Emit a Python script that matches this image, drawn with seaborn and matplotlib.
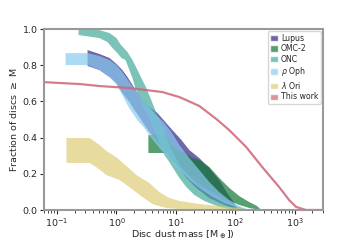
import matplotlib
matplotlib.use("Agg")
import matplotlib.pyplot as plt
from matplotlib.patches import Patch
import seaborn as sns
import numpy as np

# Band edges: (mass [M_earth], fraction >= M)
lupus_up_m = [0.326, 0.518, 0.763, 1.0, 1.26, 1.53, 1.86, 2.25, 2.73, 3.59, 4.89, 6.41, 8.73, 12.4, 16.9, 24.8, 36.6, 53.8, 73.0, 96.2, 108]
lupus_up_f = [0.884, 0.862, 0.840, 0.807, 0.773, 0.735, 0.691, 0.646, 0.608, 0.569, 0.536, 0.492, 0.442, 0.387, 0.331, 0.287, 0.232, 0.166, 0.094, 0.039, 0.006]
lupus_lo_m = [0.326, 0.518, 0.763, 1.0, 1.26, 1.65, 2.01, 2.44, 2.95, 3.59, 4.89, 6.92, 10.2, 15.0, 22.1, 36.6, 65.3, 108]
lupus_lo_f = [0.796, 0.773, 0.735, 0.702, 0.646, 0.597, 0.552, 0.514, 0.470, 0.431, 0.376, 0.320, 0.249, 0.177, 0.122, 0.066, 0.028, 0.0]

omc2_up_m = [3.45, 6.92, 7.78, 10.6, 13.9, 18.9, 24.8, 36.6, 53.8, 79.3, 117, 172, 234, 273]
omc2_up_f = [0.414, 0.414, 0.370, 0.331, 0.320, 0.287, 0.276, 0.238, 0.177, 0.122, 0.077, 0.044, 0.022, 0.0]
omc2_lo_m = [3.45, 6.92, 8.40, 11.5, 16.9, 24.8, 36.6, 53.8, 79.3, 117, 172, 273]
omc2_lo_f = [0.315, 0.315, 0.276, 0.238, 0.188, 0.144, 0.110, 0.077, 0.050, 0.028, 0.011, 0.0]

onc_up_m = [0.230, 0.518, 0.763, 1.0, 1.19, 1.53, 1.86, 2.17, 2.63, 3.19, 3.73, 4.35, 4.89, 5.28, 6.41, 7.78, 9.43, 11.5, 14.4, 18.9, 24.8, 36.6, 53.8, 79.3, 117, 159]
onc_up_f = [1.0, 0.994, 0.978, 0.950, 0.912, 0.873, 0.829, 0.785, 0.729, 0.674, 0.619, 0.564, 0.525, 0.497, 0.442, 0.359, 0.304, 0.249, 0.210, 0.166, 0.127, 0.094, 0.061, 0.039, 0.017, 0.0]
onc_lo_m = [0.230, 0.518, 0.706, 0.857, 1.04, 1.21, 1.42, 1.65, 1.86, 2.08, 2.44, 2.84, 3.32, 3.59, 4.35, 5.28, 6.41, 7.78, 9.43, 11.5, 15.0, 20.5, 30.1, 44.4, 65.3, 96.2]
onc_lo_f = [0.967, 0.950, 0.928, 0.895, 0.867, 0.840, 0.829, 0.773, 0.729, 0.674, 0.619, 0.564, 0.525, 0.497, 0.442, 0.370, 0.304, 0.265, 0.221, 0.177, 0.127, 0.083, 0.050, 0.028, 0.011, 0.0]

roph_up_m = [0.139, 0.326, 0.518, 0.763, 1.0, 1.26, 1.65, 2.17, 2.73, 3.59, 4.70, 6.41, 8.40, 11.5, 16.9, 24.8, 36.6, 53.8, 79.3, 117, 172]
roph_up_f = [0.867, 0.867, 0.851, 0.829, 0.801, 0.762, 0.707, 0.652, 0.608, 0.569, 0.525, 0.481, 0.431, 0.359, 0.287, 0.221, 0.155, 0.099, 0.055, 0.022, 0.0]
roph_lo_m = [0.139, 0.326, 0.518, 0.763, 1.0, 1.26, 1.53, 1.86, 2.25, 2.95, 3.87, 5.28, 7.78, 11.5, 16.9, 24.8, 39.5, 65.3, 117, 159]
roph_lo_f = [0.801, 0.801, 0.773, 0.735, 0.691, 0.635, 0.580, 0.536, 0.497, 0.453, 0.398, 0.343, 0.287, 0.221, 0.166, 0.122, 0.077, 0.039, 0.011, 0.0]

lori_up_m = [0.144, 0.352, 0.518, 0.680, 1.04, 1.47, 2.17, 3.59, 5.28, 7.78, 11.5, 24.8, 53.8, 117, 172]
lori_up_f = [0.398, 0.398, 0.359, 0.326, 0.287, 0.243, 0.193, 0.149, 0.099, 0.066, 0.050, 0.033, 0.022, 0.011, 0.0]
lori_lo_m = [0.144, 0.352, 0.479, 0.680, 1.12, 1.65, 2.73, 4.03, 6.92, 11.5, 53.8]
lori_lo_f = [0.260, 0.260, 0.232, 0.193, 0.166, 0.127, 0.072, 0.033, 0.011, 0.006, 0.0]

this_m = [0.05, 0.24, 0.52, 1.65, 5.9, 11.5, 24.8, 48, 79, 153, 284, 549, 809, 1060, 1560, 3000]
this_f = [0.708, 0.696, 0.685, 0.674, 0.652, 0.624, 0.575, 0.503, 0.442, 0.348, 0.238, 0.127, 0.055, 0.017, 0.0, 0.0]

bands = [
    ("Lupus", "#332288", lupus_up_m, lupus_up_f, lupus_lo_m, lupus_lo_f),
    ("OMC-2", "#117733", omc2_up_m, omc2_up_f, omc2_lo_m, omc2_lo_f),
    ("ONC", "#44AA99", onc_up_m, onc_up_f, onc_lo_m, onc_lo_f),
    (r"$\rho$ Oph", "#88CCEE", roph_up_m, roph_up_f, roph_lo_m, roph_lo_f),
    (r"$\lambda$ Ori", "#DDCC77", lori_up_m, lori_up_f, lori_lo_m, lori_lo_f),
]
this_color = "#CC6677"

sns.set_style("ticks", {"axes.edgecolor": "0.6"})
plt.rcParams["font.family"] = ["DejaVu Sans"]

fig, ax = plt.subplots(figsize=(3.6, 2.4), dpi=100)
fig.subplots_adjust(left=0.122, right=0.897, bottom=0.125, top=0.879)

handles = []
for label, color, um, uf, lm, lf in bands:
    xs = np.r_[um, lm[::-1]]
    ys = np.r_[uf, lf[::-1]]
    ax.fill(xs, ys, color=color, alpha=0.7, lw=0)
    handles.append(Patch(facecolor=color, alpha=0.7, label=label))

sns.lineplot(x=this_m, y=this_f, ax=ax, color=this_color, lw=1.6, alpha=0.85, sort=False)
handles.append(Patch(facecolor=this_color, alpha=0.7, label="This work"))

ax.set_xscale("log")
ax.set_xlim(0.06, 3000)
ax.set_ylim(0, 1.0)
ax.set_yticks([0.0, 0.2, 0.4, 0.6, 0.8, 1.0])
ax.set_xlabel(r"Disc dust mass [M$_\oplus$])", fontsize=6.8)
ax.set_ylabel(r"Fraction of discs $\geq$ M", fontsize=6.8, labelpad=3)
ax.xaxis.set_label_coords(0.5, -0.1)
ax.tick_params(axis="both", labelsize=6.8, length=3, width=0.8, pad=1.5)
ax.tick_params(axis="x", which="minor", length=1.8, width=0.6)
for s in ax.spines.values():
    s.set_linewidth(1.5)

ax.legend(handles=handles, loc="upper right", fontsize=5.6, handlelength=1.0,
          handleheight=0.9, handletextpad=0.4, labelspacing=0.2,
          borderpad=0.3, borderaxespad=0.3, frameon=True)

fig.savefig("out.png", dpi=100)
